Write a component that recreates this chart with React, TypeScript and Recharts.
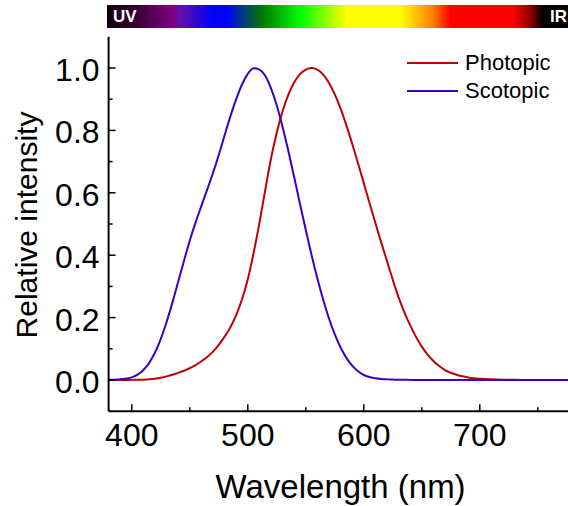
import React from 'react';
import { LineChart, Line, XAxis, YAxis, Legend } from 'recharts';

const wavelengths = [
  380, 385, 390, 395, 400, 405, 410, 415, 420, 425, 430, 435, 440, 445, 450, 455, 460, 465, 470, 475,
  480, 485, 490, 495, 500, 505, 510, 515, 520, 525, 530, 535, 540, 545, 550, 555, 560, 565, 570, 575,
  580, 585, 590, 595, 600, 605, 610, 615, 620, 625, 630, 635, 640, 645, 650, 655, 660, 665, 670, 675,
  680, 685, 690, 695, 700, 710, 720, 730, 740, 750, 760, 770, 780,
];

const photopic = [
  0.00004, 0.00006, 0.00012, 0.00022, 0.0004, 0.00064, 0.0012, 0.0022, 0.004, 0.0073, 0.0116, 0.0168, 0.023, 0.0298, 0.038, 0.048, 0.06, 0.0739, 0.091, 0.1126,
  0.139, 0.1693, 0.208, 0.2586, 0.323, 0.4073, 0.503, 0.6082, 0.71, 0.7932, 0.862, 0.9149, 0.954, 0.9803, 0.995, 1.0, 0.995, 0.9786, 0.952, 0.9154,
  0.87, 0.8163, 0.757, 0.6949, 0.631, 0.5668, 0.503, 0.4412, 0.381, 0.321, 0.265, 0.217, 0.175, 0.1382, 0.107, 0.0816, 0.061, 0.0446, 0.032, 0.0232,
  0.017, 0.0119, 0.0082, 0.0057, 0.0041, 0.0021, 0.001, 0.0005, 0.00025, 0.00012, 0.00006, 0.00003, 0.000015,
];

const scotopic = [
  0.0006, 0.0011, 0.0022, 0.0045, 0.0085, 0.017, 0.032, 0.055, 0.088, 0.132, 0.186, 0.248, 0.315, 0.382, 0.447, 0.505, 0.558, 0.61, 0.664, 0.722,
  0.784, 0.845, 0.9, 0.947, 0.981, 0.999, 0.995, 0.975, 0.935, 0.88, 0.811, 0.733, 0.65, 0.564, 0.481, 0.4, 0.325, 0.257, 0.197, 0.146,
  0.104, 0.071, 0.046, 0.028, 0.016, 0.0095, 0.0055, 0.0032, 0.002, 0.0013, 0.0009, 0.0006, 0.0004, 0.0003, 0.0002, 0.00015, 0.0001, 0.00007, 0.00005, 0.00003,
  0.00002, 0.00001, 0.00001, 0, 0, 0, 0, 0, 0, 0, 0, 0, 0,
];

const xTicks = [400, 450, 500, 550, 600, 650, 700, 750];
const yTicks = [0, 0.1, 0.2, 0.3, 0.4, 0.5, 0.6, 0.7, 0.8, 0.9, 1.0];

const seriesNames = ['Photopic', 'Scotopic'];
const seriesColors = ['#c00000', '#3a00c8'];

const data = wavelengths.map((w, i) => ({ w, photopic: photopic[i], scotopic: scotopic[i] }));

const FONT = '"Liberation Sans", Arial, sans-serif';

const isMajorX = (v: number) => v % 100 === 0;
const isMajorY = (v: number) => Math.round(v * 10) % 2 === 0;

const BottomTick = (props: any) => {
  const { x, y, payload } = props;
  const major = isMajorX(payload.value);
  return (
    <g>
      <line x1={x} x2={x} y1={y} y2={y - (major ? 7 : 4)} stroke="#000" strokeWidth={1.5} />
      {major && (
        <text x={x} y={y + 35} textAnchor="middle" fontSize={32} fontFamily={FONT} fill="#000">
          {payload.value}
        </text>
      )}
    </g>
  );
};

const TopTick = (props: any) => {
  const { x, y, payload } = props;
  const major = isMajorX(payload.value);
  return <line x1={x} x2={x} y1={y} y2={y + (major ? 7 : 4)} stroke="#000" strokeWidth={1.5} />;
};

const LeftTick = (props: any) => {
  const { x, y, payload } = props;
  const major = isMajorY(payload.value);
  return (
    <g>
      <line x1={x} x2={x + (major ? 7 : 4)} y1={y} y2={y} stroke="#000" strokeWidth={1.5} />
      {major && (
        <text x={x - 9} y={y + 13} textAnchor="end" fontSize={32} fontFamily={FONT} fill="#000">
          {payload.value.toFixed(1)}
        </text>
      )}
    </g>
  );
};

const YTitle = (props: any) => {
  const vb = props.viewBox || {};
  const cy = (vb.y ?? 0) + (vb.height ?? 0) / 2 + 1;
  const cx = 37;
  return (
    <text
      x={cx}
      y={cy}
      transform={`rotate(-90, ${cx}, ${cy})`}
      textAnchor="middle"
      fontSize={30}
      fontFamily={FONT}
      fill="#000"
    >
      Relative intensity
    </text>
  );
};

const XTitle = (props: any) => {
  const vb = props.viewBox || {};
  const cx = (vb.x ?? 0) + (vb.width ?? 0) / 2;
  return (
    <text x={cx} y={498} textAnchor="middle" fontSize={33} fontFamily={FONT} fill="#000">
      Wavelength (nm)
    </text>
  );
};

const LegendContent = () => (
  <div style={{ fontFamily: FONT, fontSize: 22, color: '#000' }}>
    {seriesNames.map((n, i) => (
      <div key={n} style={{ display: 'flex', alignItems: 'center', height: 28 }}>
        <svg width={51} height={4} style={{ display: 'block' }}>
          <line x1={0} x2={51} y1={2} y2={2} stroke={seriesColors[i]} strokeWidth={2} />
        </svg>
        <span style={{ marginLeft: 7, lineHeight: '28px' }}>{n}</span>
      </div>
    ))}
  </div>
);

const spectrum =
  'linear-gradient(to right, #100010 0%, #3a0038 7%, #800080 14%, #6010a8 16%, #0000ff 23%, #0000ff 26%, #005050 31%, #007800 33.6%, #00ff00 41.9%, #ffff00 52%, #ffff00 63.6%, #ffd800 65.7%, #ff8000 70.7%, #ff0000 74.4%, #ff0000 88%, #900000 91.8%, #000000 94.6%, #000000 100%)';

export default function App() {
  return (
    <div
      style={{
        position: 'absolute',
        left: 0,
        top: 0,
        width: 568,
        height: 506,
        overflow: 'hidden',
        background: '#fff',
      }}
    >
      <div
        style={{
          position: 'absolute',
          left: 107,
          top: 5,
          width: 461,
          height: 23,
          background: spectrum,
        }}
      >
        <span
          style={{
            position: 'absolute',
            left: 6,
            top: 2,
            color: '#fff',
            fontFamily: FONT,
            fontWeight: 'bold',
            fontSize: 17,
          }}
        >
          UV
        </span>
        <span
          style={{
            position: 'absolute',
            right: 1,
            top: 2,
            color: '#fff',
            fontFamily: FONT,
            fontWeight: 'bold',
            fontSize: 17,
          }}
        >
          IR
        </span>
      </div>
      <div style={{ position: 'absolute', left: 0, top: 0 }}>
        <LineChart
          width={600}
          height={506}
          data={data}
          margin={{ top: 36.8, right: 27.4, bottom: 0, left: 0 }}
        >
          <XAxis
            xAxisId="bottom"
            dataKey="w"
            type="number"
            domain={[380, 780]}
            ticks={xTicks}
            allowDataOverflow
            height={94.8}
            tickSize={0}
            tickMargin={0}
            tickLine={false}
            axisLine={{ stroke: '#000', strokeWidth: 2 }}
            tick={<BottomTick />}
            interval={0}
            label={<XTitle />}
          />
          <XAxis
            xAxisId="top"
            orientation="top"
            dataKey="w"
            type="number"
            domain={[380, 780]}
            ticks={xTicks}
            allowDataOverflow
            height={0}
            tickSize={0}
            tickMargin={0}
            tickLine={false}
            axisLine={{ stroke: '#000', strokeWidth: 2 }}
            tick={<TopTick />}
            interval={0}
          />
          <YAxis
            type="number"
            domain={[-0.1, 1.1]}
            ticks={yTicks}
            allowDataOverflow
            width={108.6}
            tickSize={0}
            tickMargin={0}
            tickLine={false}
            axisLine={{ stroke: '#000', strokeWidth: 2 }}
            tick={<LeftTick />}
            interval={0}
            label={<YTitle />}
          />
          <Legend
            layout="horizontal"
            align="center"
            verticalAlign="middle"
            content={<LegendContent />}
            wrapperStyle={{ left: 407, top: 49, width: 160, height: 56 }}
          />
          <Line
            xAxisId="bottom"
            type="monotone"
            dataKey="photopic"
            name="Photopic"
            stroke={seriesColors[0]}
            strokeWidth={2}
            dot={false}
            isAnimationActive={false}
          />
          <Line
            xAxisId="bottom"
            type="monotone"
            dataKey="scotopic"
            name="Scotopic"
            stroke={seriesColors[1]}
            strokeWidth={2}
            dot={false}
            isAnimationActive={false}
          />
        </LineChart>
      </div>
    </div>
  );
}
